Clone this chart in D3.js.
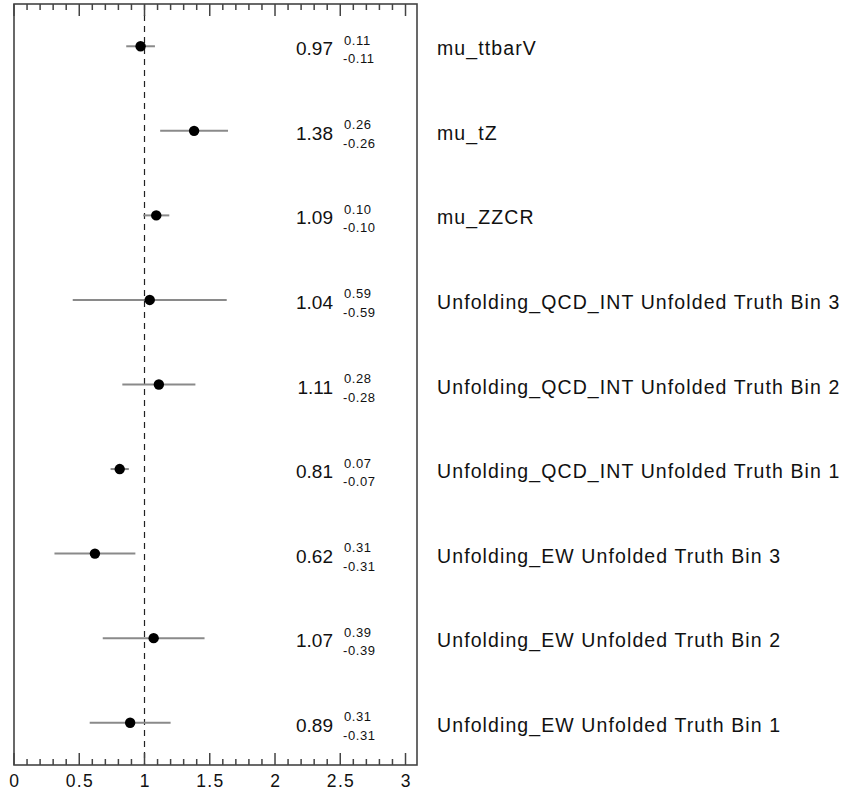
<!DOCTYPE html>
<html><head><meta charset="utf-8">
<script src="https://cdn.jsdelivr.net/npm/d3@7"></script>
<style>body{margin:0;background:#fff}svg{display:block}text{font-family:"Liberation Sans",Arial,sans-serif}</style>
</head><body>
<script>
const labels = ["mu_ttbarV","mu_tZ","mu_ZZCR","Unfolding_QCD_INT Unfolded Truth Bin 3","Unfolding_QCD_INT Unfolded Truth Bin 2","Unfolding_QCD_INT Unfolded Truth Bin 1","Unfolding_EW Unfolded Truth Bin 3","Unfolding_EW Unfolded Truth Bin 2","Unfolding_EW Unfolded Truth Bin 1"];
const values = [0.97,1.38,1.09,1.04,1.11,0.81,0.62,1.07,0.89];
const errUp = [0.11,0.26,0.10,0.59,0.28,0.07,0.31,0.39,0.31];
const errDown = [0.11,0.26,0.10,0.59,0.28,0.07,0.31,0.39,0.31];
const majorTicks = [0,0.5,1,1.5,2,2.5,3];
const tickLabels = ["0","0.5","1","1.5","2","2.5","3"];

const W=848,H=791;
const L=14,R=417,T=4,B=765;
const svg=d3.select("body").append("svg").attr("width",W).attr("height",H);
const x=d3.scaleLinear().domain([0,3.088]).range([L,R]);
const y=d3.scaleBand().domain(d3.range(labels.length)).range([T,B]);
const yc=i=>y(i)+y.bandwidth()/2;

// reference line
svg.append("line").attr("x1",x(1)).attr("x2",x(1)).attr("y1",T).attr("y2",B)
  .attr("stroke","#222").attr("stroke-width",1.2).attr("stroke-dasharray","6,5");

// ticks
const minor=d3.range(0,31).map(d=>d/10);
const g=svg.append("g");
minor.forEach(v=>{
  const isMajor=majorTicks.some(m=>Math.abs(m-v)<1e-6);
  const len=isMajor?12:6;
  g.append("line").attr("x1",x(v)).attr("x2",x(v)).attr("y1",B).attr("y2",B-len).attr("stroke","#444").attr("stroke-width",1.5);
  g.append("line").attr("x1",x(v)).attr("x2",x(v)).attr("y1",T).attr("y2",T+len).attr("stroke","#444").attr("stroke-width",1.5);
});
majorTicks.forEach((v,i)=>{
  svg.append("text").attr("x",x(v)+0.7).attr("y",B+22).attr("text-anchor","middle")
    .attr("font-size",17.5).attr("letter-spacing",1.3).attr("fill","#111").text(tickLabels[i]);
});

// frame
svg.append("rect").attr("x",L).attr("y",T).attr("width",R-L).attr("height",B-T)
  .attr("fill","none").attr("stroke","#444").attr("stroke-width",1.6);

// error bars
labels.forEach((lab,i)=>{
  const cy=yc(i);
  svg.append("line").attr("x1",x(values[i]-errDown[i])).attr("x2",x(values[i]+errUp[i]))
    .attr("y1",cy).attr("y2",cy).attr("stroke","#8a8a8a").attr("stroke-width",2);
  svg.append("circle").attr("cx",x(values[i])).attr("cy",cy).attr("r",5.2).attr("fill","#000");
  svg.append("text").attr("x",333).attr("y",cy+9).attr("text-anchor","end")
    .attr("font-size",19).attr("fill","#111").text(values[i].toFixed(2));
  svg.append("text").attr("x",344).attr("y",cy-1.5).attr("font-size",13).attr("letter-spacing",0.6).attr("fill","#111").text(errUp[i].toFixed(2));
  svg.append("text").attr("x",343).attr("y",cy+17).attr("font-size",13).attr("letter-spacing",0.6).attr("fill","#111").text("-"+errDown[i].toFixed(2));
  svg.append("text").attr("x",437).attr("y",cy+9).attr("font-size",19.5).attr("letter-spacing",1.1).attr("fill","#111").text(lab);
});
</script>
</body></html>
